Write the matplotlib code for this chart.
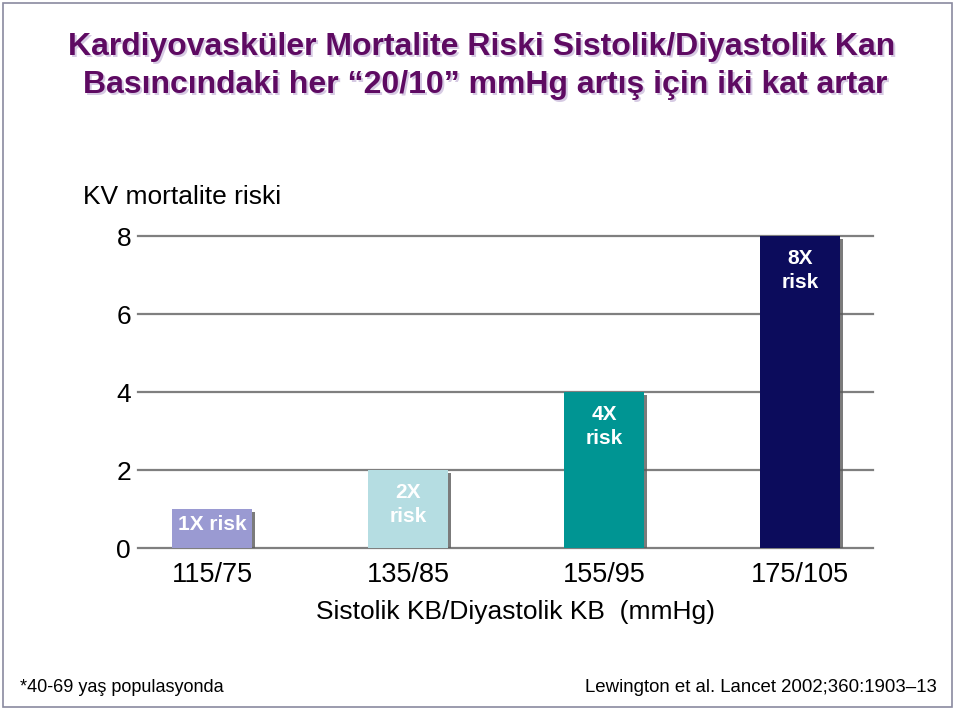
import matplotlib
matplotlib.use("Agg")
import matplotlib.pyplot as plt
import matplotlib.patheffects as pe
from matplotlib.patches import Rectangle
from matplotlib import font_manager

categories = ["115/75", "135/85", "155/95", "175/105"]
risk_values = [1, 2, 4, 8]
bar_labels = ["1X risk", "2X\nrisk", "4X\nrisk", "8X\nrisk"]
bar_colors = ["#9a9ad2", "#b5dde2", "#009593", "#0c0c5c"]
yticks = [0, 2, 4, 6, 8]

names = {f.name for f in font_manager.fontManager.ttflist}
narrow = "Liberation Sans Narrow" if "Liberation Sans Narrow" in names else "Liberation Sans"
NARROW = [narrow, "DejaVu Sans"]
ARIAL = ["Liberation Sans", "DejaVu Sans"]

W, H = 959, 720
fig = plt.figure(figsize=(W / 100, H / 100), dpi=100)
fig.patch.set_facecolor("white")

# frame around slide
fig.add_artist(Rectangle((3 / W, 1 - 707 / H), 949 / W, 704 / H, transform=fig.transFigure,
                         fill=False, edgecolor="#8a8aa0", lw=1.2))

ax_left, ax_right = 138 / W, 873 / W
ax_bottom, ax_top = 1 - 548 / H, 1 - 236 / H
ax = fig.add_axes([ax_left, ax_bottom, ax_right - ax_left, ax_top - ax_bottom])
ax.set_xlim(-0.378, 3.372)
ax.set_ylim(0, 8)
for s in ax.spines.values():
    s.set_visible(False)

for yv in yticks:
    ax.axhline(yv, color="#7f7f7f", lw=1.6, clip_on=False, zorder=1)

x = list(range(len(categories)))
bars = ax.bar(x, risk_values, width=0.41, color=bar_colors, zorder=3,
              path_effects=[pe.SimplePatchShadow(offset=(2.2, -2.2), shadow_rgbFace="#5a5a5a", alpha=0.8),
                            pe.Normal()])

for xi, v, lab in zip(x, risk_values, bar_labels):
    if v == 1:
        ax.text(xi, v * 0.6, lab, ha="center", va="center", color="white", fontsize=15,
                fontweight="bold", family=ARIAL, zorder=5)
    else:
        ax.text(xi, v - 0.34, lab, ha="center", va="top", color="white", fontsize=15,
                fontweight="bold", family=ARIAL, linespacing=1.3, zorder=5)

ax.set_yticks(yticks)
ax.set_yticklabels([str(t) for t in yticks], fontsize=19, family=ARIAL)
ax.tick_params(axis="y", length=0, pad=5)
ax.set_xticks(x)
ax.set_xticklabels(categories, fontsize=19.5, family=NARROW)
ax.tick_params(axis="x", length=0, pad=10)

fig.text(515 / W, 1 - 612 / H, "Sistolik KB/Diyastolik KB  (mmHg)", ha="center", va="center",
         fontsize=19, family=NARROW)
fig.text(83 / W, 1 - 197 / H, "KV mortalite riski", ha="left", va="center",
         fontsize=19, family=ARIAL)

title_kw = dict(ha="center", va="center", fontsize=23, fontweight="bold", color="#5e0a62", family=NARROW)
for (tx, ty, s) in [(482, 47, "Kardiyovasküler Mortalite Riski Sistolik/Diyastolik Kan"),
                    (485, 85, "Basıncındaki her “20/10” mmHg artış için iki kat artar")]:
    fig.text((tx + 1.8) / W, 1 - (ty + 1.8) / H, s, **{**title_kw, "color": "#d6cae3"})
    fig.text(tx / W, 1 - ty / H, s, **title_kw)

fig.text(20 / W, 1 - 688 / H, "*40-69 yaş populasyonda", ha="left", va="center",
         fontsize=13, family=NARROW)
fig.text(937 / W, 1 - 688 / H, "Lewington et al. Lancet 2002;360:1903–13", ha="right", va="center",
         fontsize=13.4, family=NARROW)

fig.savefig("out.png", dpi=100)
